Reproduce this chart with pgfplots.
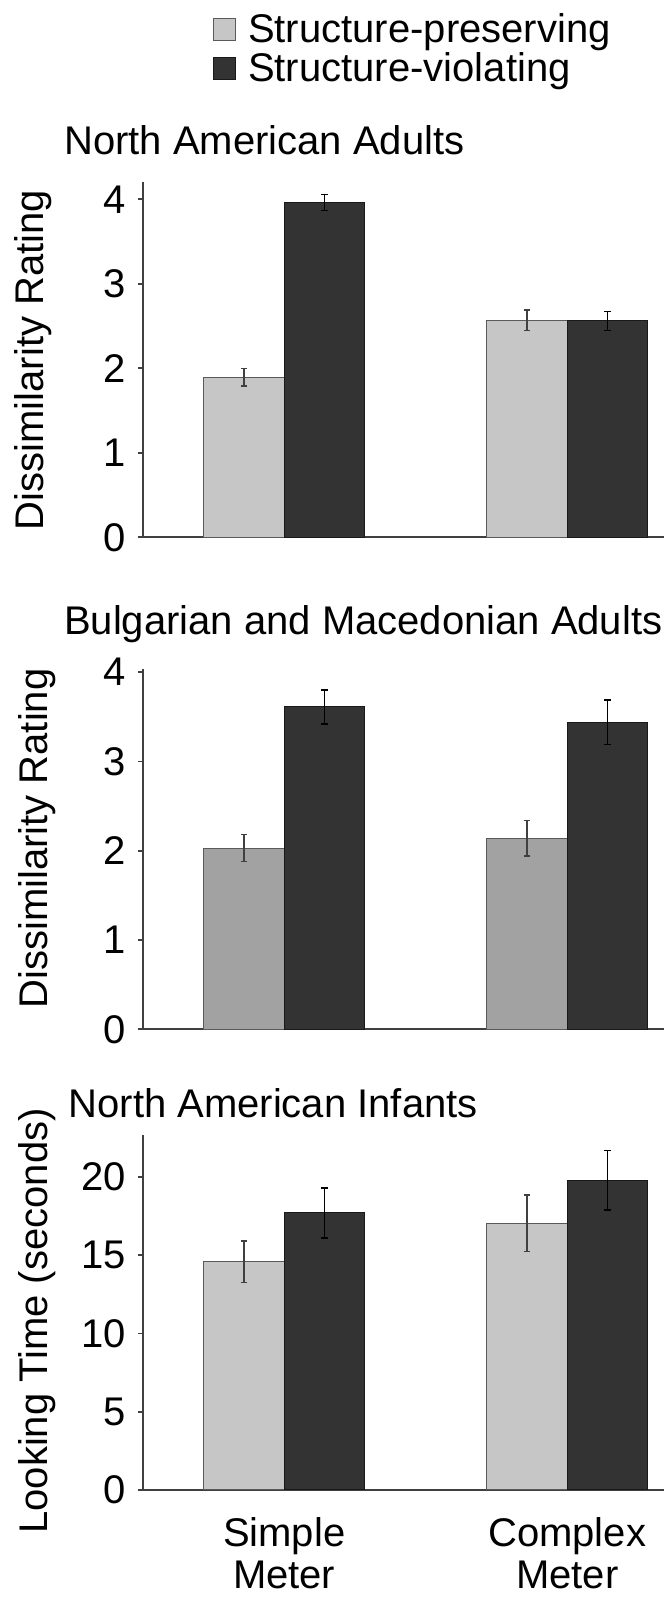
\documentclass[border=0pt]{standalone}
\usepackage{fontspec}
\setmainfont{Liberation Sans}
\usepackage{pgfplots}
\pgfplotsset{compat=1.18}

\definecolor{lightbar}{HTML}{C6C6C6}
\definecolor{midbar}{HTML}{A2A2A2}
\definecolor{darkbar}{HTML}{333333}
\definecolor{axisgray}{HTML}{404040}
\definecolor{edgegray}{HTML}{5A5A5A}

\newcommand{\fs}{\fontsize{12}{14.7}\selectfont}
\newcommand{\fsx}{\fontsize{12}{12.8}\selectfont}

\pgfplotsset{
  panel/.style={
    scale only axis, width=156.39pt,
    xmin=-0.5, xmax=1.342, ymin=0,
    axis x line=bottom, axis y line=left,
    axis line style={-, line width=0.6pt, color=axisgray},
    xtick=\empty,
    tick align=outside, major tick length=1.5pt,
    ytick style={line width=0.5pt, color=axisgray},
    xtick style={draw=none},
    tick label style={font=\fs},
    /pgf/number format/assume math mode=true,
    ybar, bar width=24.15pt, bar shift=0pt,
    clip=false,
    anchor=south west,
    error bars/y dir=both, error bars/y explicit,
  },
  lightstyle/.style={fill=#1, draw=edgegray, line width=0.3pt,
    error bars/error bar style={line width=0.45pt, color=black!75},
    error bars/error mark options={rotate=90, mark size=1pt, line width=0.45pt, color=black!75},
    legend image code/.code={\draw[##1] (0pt,-2.95pt) rectangle (6.6pt,3.65pt);}},
  darkstyle/.style={fill=darkbar, draw=black!90, line width=0.3pt,
    error bars/error bar style={line width=0.45pt, color=black},
    error bars/error mark options={rotate=90, mark size=1pt, line width=0.45pt, color=black},
    legend image code/.code={\draw[##1] (0pt,-2.95pt) rectangle (6.6pt,3.65pt);}},
}

\begin{document}
\begin{tikzpicture}
\useasboundingbox (0,0) rectangle (199.2pt,480.3pt);

% Panel 1: North American Adults
\begin{axis}[panel, at={(42.81pt,319.11pt)}, height=106.47pt, ymax=4.2,
  ytick={0,1,2,3,4},
  legend style={draw=none, fill=none, at={(axis description cs:0.1138,1.3725)},
    anchor=west, font=\fs, row sep=1.4pt, column sep=3.75pt,
    nodes={inner sep=0pt}},
  legend cell align=left]
\addplot[lightstyle=lightbar] coordinates {(-0.14223,1.895) +- (0,0.105) (0.85777,2.57) +- (0,0.12)};
\addplot[darkstyle] coordinates {(0.14223,3.96) +- (0,0.095) (1.14223,2.56) +- (0,0.11)};
\legend{Structure-preserving, Structure-violating}
\end{axis}

% Panel 2: Bulgarian and Macedonian Adults
\begin{axis}[panel, at={(42.81pt,171.51pt)}, height=108.23pt, ymax=4.04,
  ytick={0,1,2,3,4}]
\addplot[lightstyle=midbar] coordinates {(-0.14223,2.03) +- (0,0.15) (0.85777,2.14) +- (0,0.20)};
\addplot[darkstyle] coordinates {(0.14223,3.61) +- (0,0.19) (1.14223,3.44) +- (0,0.25)};
\end{axis}

% Panel 3: North American Infants
\begin{axis}[panel, at={(42.81pt,33.3pt)}, height=106.58pt, ymax=22.7,
  ytick={0,5,10,15,20},
  xtick={0,1}, xticklabels={{Simple\\Meter},{Complex\\Meter}},
  xticklabel style={align=center, anchor=north, inner sep=0pt, yshift=-6.5pt, font=\fsx}]
\addplot[lightstyle=lightbar] coordinates {(-0.14223,14.58) +- (0,1.33) (0.85777,17.05) +- (0,1.8)};
\addplot[darkstyle] coordinates {(0.14223,17.71) +- (0,1.6) (1.14223,19.8) +- (0,1.9)};
\end{axis}

% titles
\node[anchor=base west, inner sep=0pt, font=\fs] at (19.05pt,433.8pt) {North American Adults};
\node[anchor=base west, inner sep=0pt, font=\fs] at (19.05pt,289.8pt) {Bulgarian and Macedonian Adults};
\node[anchor=base west, inner sep=0pt, font=\fs] at (20.4pt,144.9pt) {North American Infants};

% y labels
\node[rotate=90, anchor=base, inner sep=0pt, font=\fs] at (13.08pt,372.3pt) {Dissimilarity Rating};
\node[rotate=90, anchor=base, inner sep=0pt, font=\fs] at (14.1pt,228.75pt) {Dissimilarity Rating};
\node[rotate=90, anchor=base, inner sep=0pt, font=\fs] at (14.1pt,84pt) {Looking Time (seconds)};
\end{tikzpicture}
\end{document}
